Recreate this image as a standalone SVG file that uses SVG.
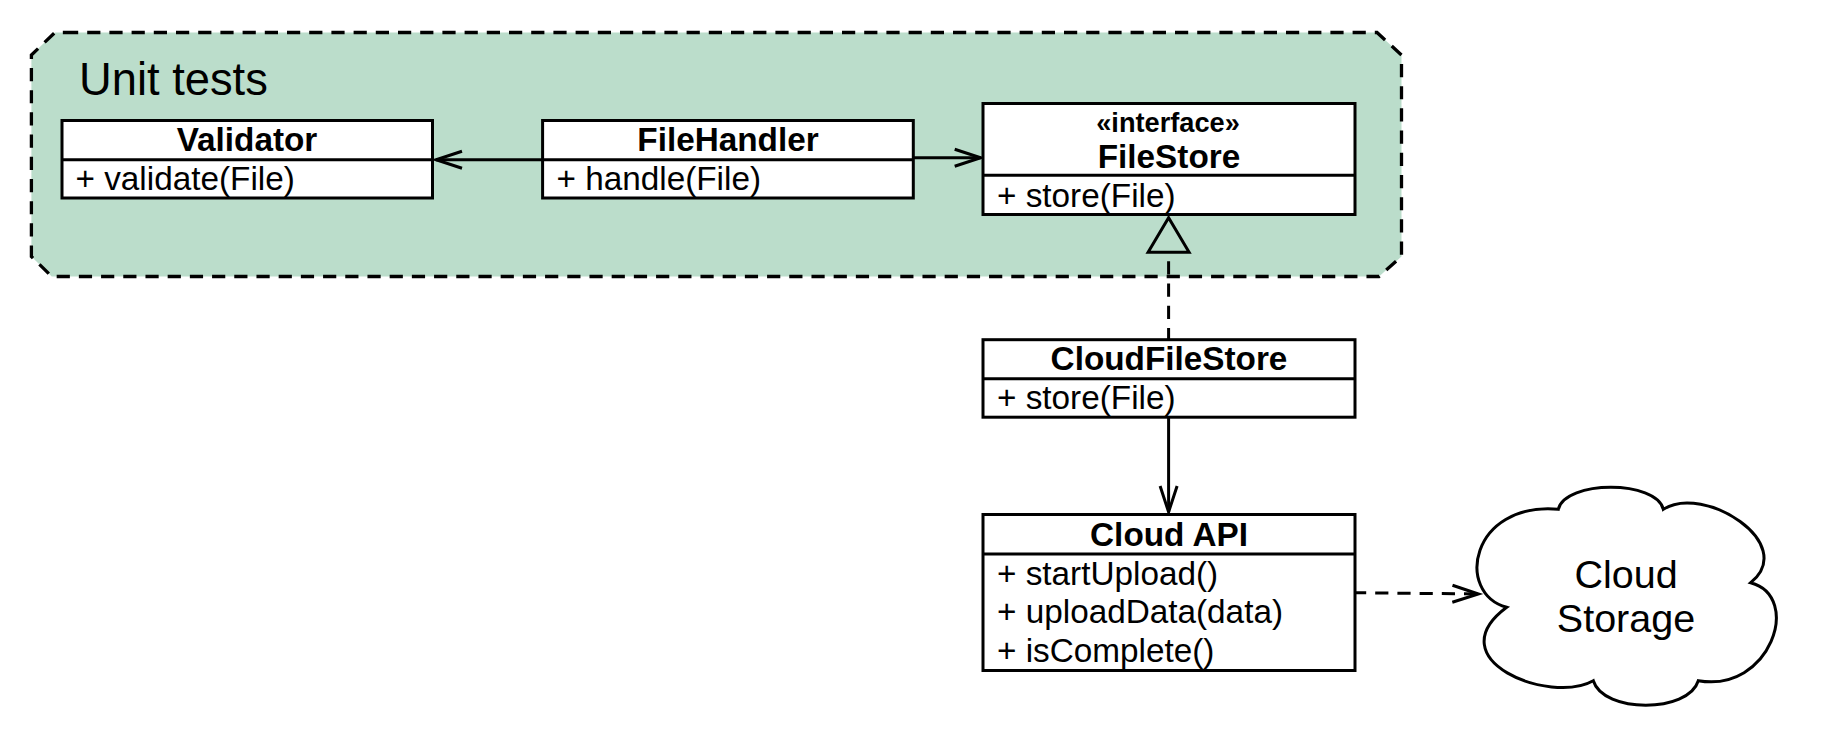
<svg xmlns="http://www.w3.org/2000/svg" width="1822" height="741" viewBox="0 0 1822 741">
<style>
text{font-family:"Liberation Sans",Arial,sans-serif;fill:#000}
.box{fill:#fff;stroke:#000;stroke-width:3}
.div{fill:none;stroke:#000;stroke-width:3}
.t{font-size:33.3px;font-weight:bold;text-anchor:middle}
.m{font-size:33.3px}
.line{fill:none;stroke:#000;stroke-width:3}
.dash{stroke-dasharray:13.2 9}
.border{stroke-width:3.3}
.open{marker-end:url(#open)}
.cloudtxt{font-size:39.5px;text-anchor:middle}
</style>
<defs>
<marker id="open" markerUnits="userSpaceOnUse" markerWidth="40" markerHeight="30" refX="30" refY="15" orient="auto" overflow="visible">
<path d="M4,6.5 L30,15 L4,23.5" fill="none" stroke="#000" stroke-width="3"/>
</marker>
<marker id="tri" markerUnits="userSpaceOnUse" markerWidth="50" markerHeight="50" refX="40" refY="25" orient="auto" overflow="visible">
<path d="M40,4.5 L5.5,25 L40,45.5 Z" fill="none" stroke="#000" stroke-width="3"/>
</marker>
</defs>
<g id="unit-tests">
<path d="M55,32.5 L1377,32.5 L1401.5,55 L1401.5,256.5 L1379,276.5 L51.7,276.5 L31.4,256.5 L31.4,55 Z" fill="#bbddcb"/>
<path class="line dash border" d="M65,32.5 L1377,32.5 L1401.5,55 L1401.5,256.5 L1379,276.5 L51.7,276.5 L31.4,256.5 L31.4,55 L55,32.5 L65,32.5"/>
<text x="79" y="95" font-size="45.3">Unit tests</text>
</g>
<g id="connectors">
<path class="line open" d="M542.6,159.7 L436,159.7"/>
<path class="line open" d="M913.3,157.7 L980.7,157.7"/>
<path class="line dash" stroke-dashoffset="13.2" marker-start="url(#tri)" d="M1168.6,252.3 L1168.6,339.3"/>
<path class="line open" d="M1168.6,416.7 L1168.6,512"/>
<path class="line dash open" d="M1353,592.7 L1478.4,594"/>
</g>
<g id="validator">
<rect class="box" x="62" y="120.5" width="370.5" height="77.5"/>
<path class="div" d="M62,159.7 H432.5"/>
<text class="t" x="247" y="151">Validator</text>
<text class="m" x="75.5" y="190.3">+ validate(File)</text>
</g>
<g id="file-handler">
<rect class="box" x="542.6" y="120.5" width="370.7" height="77.5"/>
<path class="div" d="M542.6,159.7 H913.3"/>
<text class="t" x="728" y="151">FileHandler</text>
<text class="m" x="556.5" y="190.3">+ handle(File)</text>
</g>
<g id="file-store">
<rect class="box" x="983" y="103.5" width="372" height="111"/>
<path class="div" d="M983,175.3 H1355"/>
<text x="1168" y="131.7" font-size="27.2" font-weight="bold" text-anchor="middle">«interface»</text>
<text class="t" x="1169" y="167.7">FileStore</text>
<text class="m" x="997" y="206.7">+ store(File)</text>
</g>
<g id="cloud-file-store">
<rect class="box" x="983" y="339.7" width="372" height="77.5"/>
<path class="div" d="M983,378.7 H1355"/>
<text class="t" x="1169" y="370">CloudFileStore</text>
<text class="m" x="997" y="409.2">+ store(File)</text>
</g>
<g id="cloud-api">
<rect class="box" x="983" y="514.5" width="372" height="156"/>
<path class="div" d="M983,554 H1355"/>
<text class="t" x="1169" y="545.7">Cloud API</text>
<text class="m" x="997" y="585">+ startUpload()</text>
<text class="m" x="997" y="622.7">+ uploadData(data)</text>
<text class="m" x="997" y="661.5">+ isComplete()</text>
</g>
<g id="cloud-storage">
<path d="M1506.7,607.3 C1455,593.3 1470,501.7 1558.3,509.3 C1565,480 1656.7,480 1663.3,509.3 C1703.3,483.3 1799,543.3 1750.7,582.7 C1803,596.7 1770,693.3 1698.3,680.7 C1688.3,713.3 1603.3,713.3 1593.3,680.7 C1550,705 1436,660 1506.7,607.3 Z" fill="#fff" stroke="#000" stroke-width="3"/>
<text class="cloudtxt" x="1626" y="587.7">Cloud</text>
<text class="cloudtxt" x="1626" y="631.7">Storage</text>
</g>
</svg>
